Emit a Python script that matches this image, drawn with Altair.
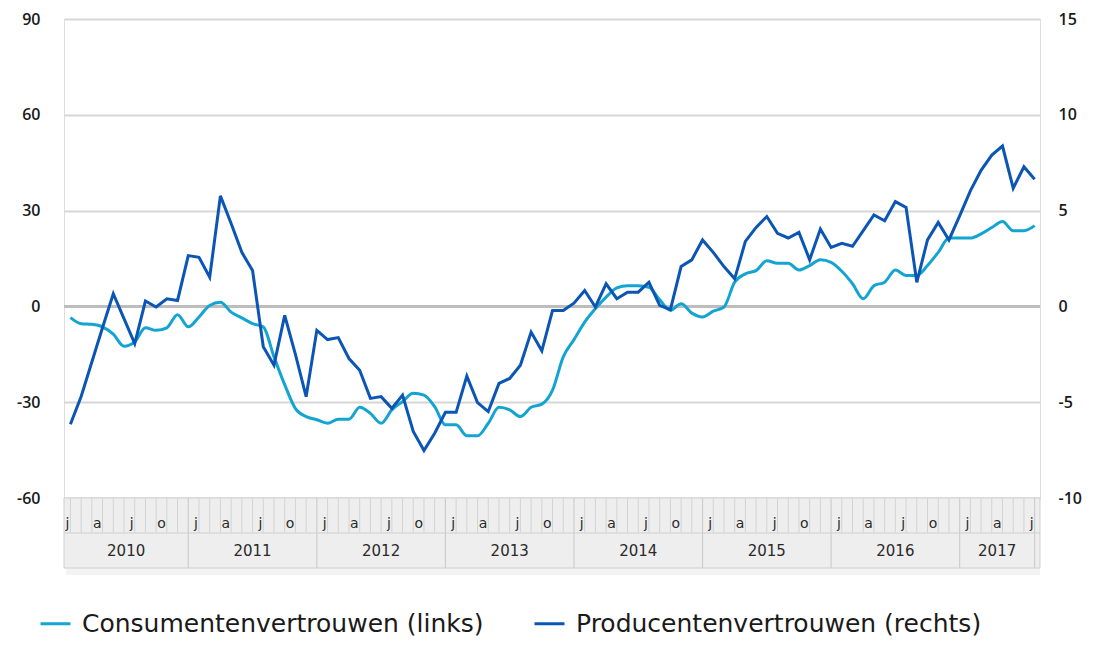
import altair as alt
import pandas as pd

# ---------------- data ----------------
# monthly values, January 2010 .. July 2017
consumer = [
    -3.5, -5.4, -5.6, -6.4, -8.7, -12.5, -11.1, -6.7, -7.5, -6.7,
    -2.6, -6.4, -3.3, 0.3, 1.3, -1.8, -3.6, -5.4, -6.4, -15.8,
    -24.5, -32.0, -34.5, -35.5, -36.6, -35.3, -35.3, -31.6, -33.5, -36.6,
    -32.4, -29.8, -27.2, -27.8, -31.4, -37.1, -37.1, -40.5, -40.5, -36.6,
    -31.6, -32.4, -34.5, -31.6, -30.6, -26.2, -15.8, -10.4, -4.9, -0.7,
    2.9, 5.8, 6.5, 6.5, 6.0, 2.1, -1.2, 0.8, -2.1, -3.3,
    -1.5, -0.2, 7.6, 10.2, 11.2, 14.3, 13.5, 13.5, 11.4, 12.8,
    14.6, 13.8, 11.0, 7.1, 2.4, 6.5, 7.6, 11.4, 9.7, 9.7,
    12.8, 16.9, 21.4, 21.4, 21.4, 22.7, 24.7, 26.6, 23.7, 23.7,
    25.3,
]
producer = [
    -6.15, -4.7, -2.9, -1.1, 0.66, -0.64, -1.94, 0.28, -0.03, 0.40,
    0.31, 2.65, 2.56, 1.52, 5.77, 4.33, 2.82, 1.87, -2.11, -3.07,
    -0.47, -2.5, -4.71, -1.25, -1.73, -1.63, -2.72, -3.33, -4.80, -4.71,
    -5.32, -4.63, -6.53, -7.52, -6.62, -5.53, -5.53, -3.64, -5.02, -5.49,
    -4.02, -3.76, -3.07, -1.34, -2.32, -0.21, -0.21, 0.17, 0.83, -0.03,
    1.18, 0.40, 0.74, 0.74, 1.26, 0.05, -0.17, 2.08, 2.43, 3.47,
    2.82, 2.08, 1.44, 3.39, 4.12, 4.69, 3.81, 3.57, 3.86, 2.43,
    4.04, 3.08, 3.29, 3.14, 3.95, 4.77, 4.47, 5.47, 5.16, 1.26,
    3.47, 4.38, 3.47, 4.73, 6.03, 7.10, 7.90, 8.37, 6.17, 7.29,
    6.64,
]
years = [2010, 2011, 2012, 2013, 2014, 2015, 2016, 2017]
quarter_months = [1, 4, 7, 10]
month_letters = ["j", "a", "j", "o"]
left_ticks = [-60, -30, 0, 30, 60, 90]
right_ticks = [-10, -5, 0, 5, 10, 15]
series_names = ["Consumentenvertrouwen (links)", "Producentenvertrouwen (rechts)"]
colors = ["#14a4d2", "#0b55b5"]

# ---------------- tables ----------------
n = len(consumer)
idx = list(range(n))
df_c = pd.DataFrame({"i": idx, "v": consumer, "s": series_names[0]})
df_p = pd.DataFrame({"i": idx, "v": producer, "s": series_names[1]})

first_year = years[0]
last_pos = n - 1
x_lo, x_hi = -0.6, last_pos + 0.5

# month labels: placed at the right edge of the month cell
ml = []
for y in years:
    for m, letter in zip(quarter_months, month_letters):
        pos = (y - first_year) * 12 + m - 1
        if 0 <= pos <= last_pos:
            ml.append({"p": pos, "t": letter})
df_ml = pd.DataFrame(ml)

# year blocks
yb = []
boundaries = []
for y in years:
    s = max(x_lo, (y - first_year) * 12 - 1)
    e = min(last_pos, (y - first_year) * 12 + 11)
    yb.append({"c": (s + e) / 2, "t": str(y)})
    boundaries.append(e)
df_yb = pd.DataFrame(yb)
df_yline = pd.DataFrame({"p": boundaries})
df_mline = pd.DataFrame({"p": [k for k in range(0, last_pos) if k not in boundaries]})

W, H = 976, 479
BOX_TOP, BOX_MID, BOX_BOT = H, H + 35, H + 70
FONT = "DejaVu Sans"
AXFONT = "Open Sans"

xs = alt.Scale(domain=[x_lo, x_hi], nice=False, zero=False)
xenc = lambda f: alt.X(f, type="quantitative", scale=xs, axis=None)

color = alt.Color(
    "s:N",
    scale=alt.Scale(domain=series_names, range=colors),
    legend=alt.Legend(
        orient="none", legendX=-25, legendY=588, direction="horizontal",
        title=None, symbolType="stroke", symbolSize=900, symbolStrokeWidth=3,
        labelFontSize=25, labelFont=FONT, labelColor="#1a1a1a", labelOffset=10,
        columnPadding=44, labelLimit=600,
    ),
)

zero_rule = alt.Chart(pd.DataFrame({"z": [0]})).mark_rule(
    color="#bdbdbd", strokeWidth=3
).encode(
    y=alt.Y("z:Q", scale=alt.Scale(domain=[left_ticks[0], left_ticks[-1]], nice=False), axis=None)
)

cons_line = alt.Chart(df_c).mark_line(strokeWidth=3, interpolate="monotone").encode(
    x=xenc("i"),
    y=alt.Y("v:Q", scale=alt.Scale(domain=[left_ticks[0], left_ticks[-1]], nice=False),
            axis=alt.Axis(values=left_ticks, orient="left", title=None, ticks=False,
                          domain=False, grid=True, gridColor="#d6d6d6", gridWidth=2,
                          labelPadding=24, labelFontSize=16, labelFont=AXFONT,
                          labelFontWeight=600, labelColor="#1a1a1a",
                          labelExpr="'' + datum.value")),
    color=color,
)

prod_line = alt.Chart(df_p).mark_line(strokeWidth=3).encode(
    x=xenc("i"),
    y=alt.Y("v:Q", scale=alt.Scale(domain=[right_ticks[0], right_ticks[-1]], nice=False),
            axis=alt.Axis(values=right_ticks, orient="right", title=None, ticks=False,
                          domain=False, grid=False, labelPadding=18, labelFontSize=16,
                          labelFont=AXFONT, labelFontWeight=600, labelColor="#1a1a1a",
                          labelExpr="'' + datum.value")),
    color=color,
)

one = pd.DataFrame({"a": [0]})
shadow = alt.Chart(one).mark_rect(fill="#f3f3f3").encode(
    x=alt.value(2), x2=alt.value(W), y=alt.value(BOX_BOT), y2=alt.value(BOX_BOT + 7)
)
box = alt.Chart(one).mark_rect(fill="#eeeeee", stroke="#cfcfcf", strokeWidth=1).encode(
    x=alt.value(0), x2=alt.value(W), y=alt.value(BOX_TOP), y2=alt.value(BOX_BOT)
)
sep = alt.Chart(one).mark_rule(color="#cfcfcf", strokeWidth=1).encode(
    x=alt.value(0), x2=alt.value(W), y=alt.value(BOX_MID)
)
mlines = alt.Chart(df_mline).mark_rule(color="#d3d3d3", strokeWidth=1).encode(
    x=xenc("p"), y=alt.value(BOX_TOP), y2=alt.value(BOX_MID)
)
ylines = alt.Chart(df_yline).mark_rule(color="#cdcdcd", strokeWidth=1.2).encode(
    x=xenc("p"), y=alt.value(BOX_TOP), y2=alt.value(BOX_BOT)
)
mtext = alt.Chart(df_ml).mark_text(
    font=FONT, fontSize=14, color="#2a2a2a", align="right", baseline="alphabetic", dx=-1
).encode(x=xenc("p"), y=alt.value(BOX_TOP + 30), text="t:N")
ytext = alt.Chart(df_yb).mark_text(
    font=FONT, fontSize=15, color="#2a2a2a", align="center", baseline="middle"
).encode(x=xenc("c"), y=alt.value(BOX_MID + 18), text="t:N")

chart = alt.layer(
    zero_rule, cons_line, prod_line, shadow, box, sep, mlines, ylines, mtext, ytext
).resolve_scale(y="independent").properties(
    width=W, height=H,
    autosize=alt.AutoSizeParams(type="none"),
    padding={"left": 56, "top": 11, "right": 49, "bottom": 140},
).configure_view(stroke=None).configure(background="white")

chart.save("out.html", embed_options={"renderer": "svg", "actions": False})
